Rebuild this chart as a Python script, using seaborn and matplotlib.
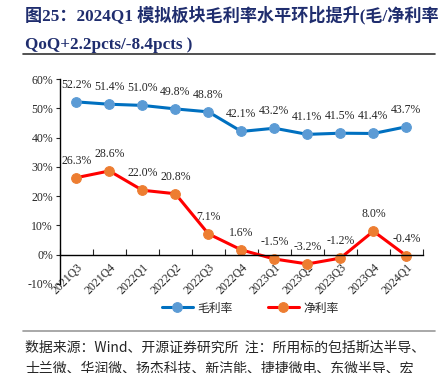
import seaborn as sns
import matplotlib.pyplot as plt
import matplotlib.ticker as mtick
import pandas as pd

# dados do gráfico
quarters = ['2021Q3', '2021Q4', '2022Q1', '2022Q2', '2022Q3', '2022Q4',
            '2023Q1', '2023Q2', '2023Q3', '2023Q4', '2024Q1']
gross = [52.2, 51.4, 51.0, 49.8, 48.8, 42.1, 43.2, 41.1, 41.5, 41.4, 43.7]
net = [26.3, 28.6, 22.0, 20.8, 7.1, 1.6, -1.5, -3.2, -1.2, 8.0, -0.4]

title_l1 = '图25：2024Q1 模拟板块毛利率水平环比提升(毛/净利率'
title_l2 = 'QoQ+2.2pcts/-8.4pcts )'
note_l1 = '数据来源：Wind、开源证券研究所  注：所用标的包括斯达半导、'
note_l2 = '士兰微、华润微、扬杰科技、新洁能、捷捷微电、东微半导、宏'

df = pd.DataFrame({'x': range(len(quarters)), 'gross': gross, 'net': net})

sns.set_style('white')
plt.rcParams['font.family'] = ['Liberation Serif', 'Noto Sans CJK SC']
cjk = ['Noto Sans CJK SC', 'DejaVu Sans']

fig = plt.figure(figsize=(4.47, 3.73), dpi=100)
ax = fig.add_axes([0.134, 0.239, 0.812, 0.549])

sns.lineplot(data=df, x='x', y='gross', ax=ax, color='#0070C0', linewidth=2.2,
             marker='o', markersize=7, markerfacecolor='#5B9BD5',
             markeredgecolor='#5B9BD5', label='毛利率')
sns.lineplot(data=df, x='x', y='net', ax=ax, color='#FF0000', linewidth=2.2,
             marker='o', markersize=7, markerfacecolor='#ED7D31',
             markeredgecolor='#ED7D31', label='净利率')

for i in range(len(quarters)):
    ax.annotate(f'{gross[i]:.1f}%', (i, gross[i]), xytext=(0, 8),
                textcoords='offset points', ha='center', va='bottom', fontsize=8.5)
    ax.annotate(f'{net[i]:.1f}%', (i, net[i]), xytext=(0, 8),
                textcoords='offset points', ha='center', va='bottom', fontsize=8.5)

ax.set_xlim(-0.5, len(quarters) - 0.5)
ax.set_ylim(-10, 60)
ax.set_yticks(range(-10, 61, 10))
ax.yaxis.set_major_formatter(mtick.FuncFormatter(lambda v, p: f'{v:.0f}%'))
ax.tick_params(axis='y', labelsize=8.5, length=3, direction='out', left=True, pad=2)

ax.spines['top'].set_visible(False)
ax.spines['right'].set_visible(False)
ax.spines['bottom'].set_position(('data', 0))
for s in ['left', 'bottom']:
    ax.spines[s].set_color('black')
    ax.spines[s].set_linewidth(1)

ax.set_xticks([i - 0.5 for i in range(len(quarters) + 1)])
ax.set_xticklabels([])
ax.tick_params(axis='x', which='major', direction='in', length=4, bottom=True)
ax.set_xticks(range(len(quarters)), minor=True)
ax.set_xticklabels(quarters, minor=True, rotation=45, ha='right',
                   rotation_mode='anchor', fontsize=8.5)
ax.tick_params(axis='x', which='minor', length=0, pad=5)
ax.set_xlabel('')
ax.set_ylabel('')
ax.grid(False)

ax.legend(loc='center', bbox_to_anchor=(0.56, 0.174), bbox_transform=fig.transFigure,
          ncol=2, frameon=False, handlelength=2.6, handletextpad=0.4, columnspacing=3,
          prop={'family': cjk, 'size': 8.5})

fig.text(0.056, 0.96, title_l1, fontsize=12.3, fontweight='bold', color='#1F2D6E',
         va='center', family=['Liberation Serif', 'Noto Sans CJK SC'])
fig.text(0.056, 0.88, title_l2, fontsize=12.3, fontweight='bold', color='#1F2D6E',
         va='center', family=['Liberation Serif', 'Noto Sans CJK SC'])
fig.add_artist(plt.Line2D([0.052, 0.973], [0.855, 0.855], color='#333333', linewidth=1.2))
fig.add_artist(plt.Line2D([0.052, 0.973], [0.113, 0.113], color='#999999', linewidth=1.2))
fig.text(0.056, 0.067, note_l1, fontsize=10, va='center', family=['Noto Sans CJK SC', 'Liberation Serif'])
fig.text(0.056, 0.01, note_l2, fontsize=10, va='center', family=['Noto Sans CJK SC', 'Liberation Serif'])

plt.savefig('out.png', dpi=100)
